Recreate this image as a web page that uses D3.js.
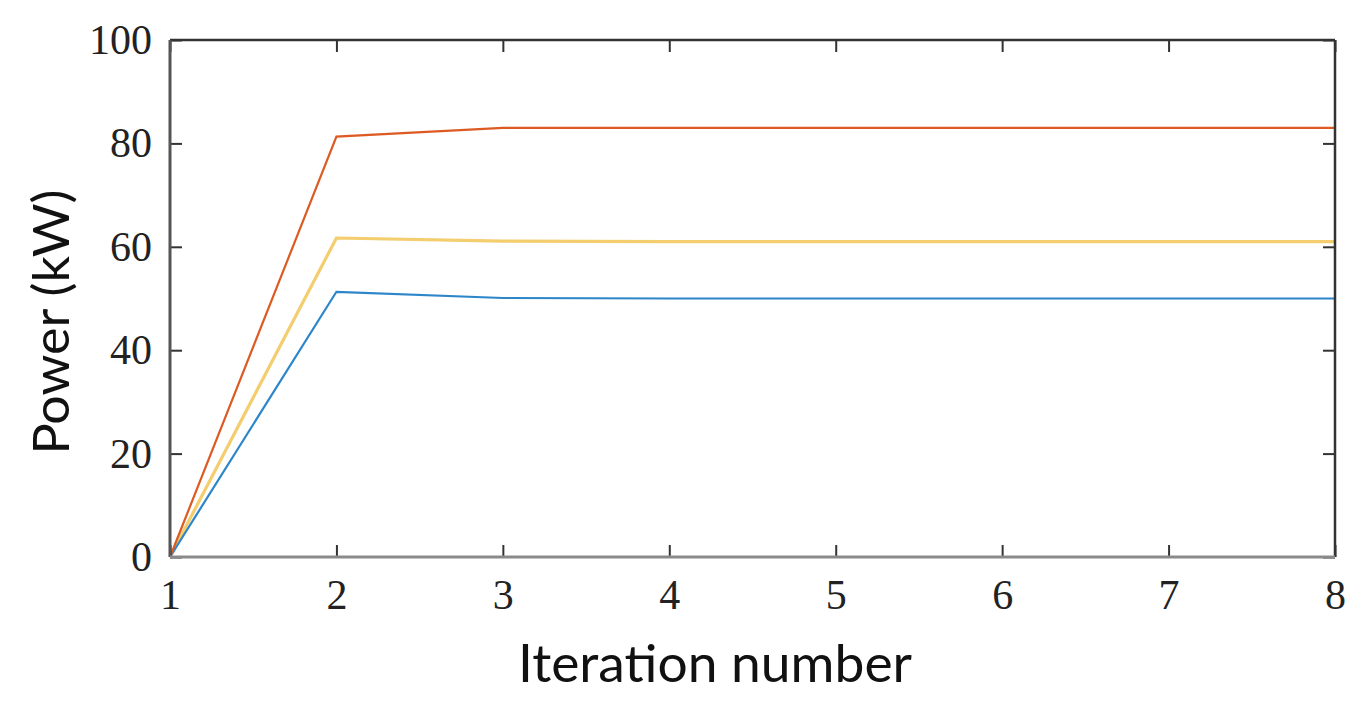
<!DOCTYPE html>
<html>
<head>
<meta charset="utf-8">
<script src="https://cdn.jsdelivr.net/npm/d3@7"></script>
<style>
html,body{margin:0;padding:0;background:#fff;}
svg{display:block;}
</style>
</head>
<body>
<svg id="chart" width="1361" height="715"></svg>
<script>
const iterations = [1, 2, 3, 4, 5, 6, 7, 8];
const seriesBlue   = [0, 51.3, 50.1, 50.0, 50.0, 50.0, 50.0, 50.0];
const seriesOrange = [0, 81.3, 83.0, 83.0, 83.0, 83.0, 83.0, 83.0];
const seriesYellow = [0, 61.7, 61.1, 61.0, 61.0, 61.0, 61.0, 61.0];
const xTicks = [1, 2, 3, 4, 5, 6, 7, 8];
const yTicks = [0, 20, 40, 60, 80, 100];
const xTitle = "Iteration number";
const yTitle = "Power (kW)";

const svg = d3.select("#chart");
const L = 170, R = 1335, T = 40, B = 557;
const x = d3.scaleLinear().domain([1, 8]).range([L, R]);
const y = d3.scaleLinear().domain([0, 100]).range([B, T]);

const serif = "'Liberation Serif', 'DejaVu Serif', serif";
const sans = "Lato, 'Open Sans', sans-serif";

// Series
const line = d3.line().x((d, i) => x(iterations[i])).y(d => y(d));
const series = [
  {v: seriesYellow, c: "#f4cd6e", w: 3.2},
  {v: seriesBlue, c: "#2c86c9", w: 2.2},
  {v: seriesOrange, c: "#dd5a22", w: 2.2}
];
series.forEach(s => {
  svg.append("path").datum(s.v).attr("d", line)
    .attr("fill", "none").attr("stroke", s.c).attr("stroke-width", s.w)
    .attr("stroke-linejoin", "miter");
});

// Axes (inner ticks)
const tickLen = 12;
const gB = svg.append("g").attr("transform", `translate(0,${B})`)
  .call(d3.axisBottom(x).tickValues(xTicks).tickSize(-tickLen).tickPadding(tickLen + 10).tickFormat(d3.format("d")));
const gT = svg.append("g").attr("transform", `translate(0,${T})`)
  .call(d3.axisTop(x).tickValues(xTicks).tickSize(-tickLen).tickFormat(""));
const gL = svg.append("g").attr("transform", `translate(${L},0)`)
  .call(d3.axisLeft(y).tickValues(yTicks).tickSize(-tickLen).tickPadding(tickLen + 6).tickFormat(d3.format("d")));
const gR = svg.append("g").attr("transform", `translate(${R},0)`)
  .call(d3.axisRight(y).tickValues(yTicks).tickSize(-tickLen).tickFormat(""));

[gB, gT, gL, gR].forEach(g => {
  g.select(".domain").remove();
  g.selectAll(".tick line").attr("stroke", "#333").attr("stroke-width", 2);
  g.selectAll(".tick text").attr("fill", "#222").style("font-family", serif).style("font-size", "42px");
});
gB.selectAll(".tick text").attr("dy", "0.71em");
gL.selectAll(".tick text").attr("dy", "0.32em");

// Box
svg.append("line").attr("x1", L).attr("x2", R).attr("y1", T).attr("y2", T).attr("stroke", "#333").attr("stroke-width", 2.5);
svg.append("line").attr("x1", R).attr("x2", R).attr("y1", T).attr("y2", B).attr("stroke", "#333").attr("stroke-width", 2.5);
svg.append("line").attr("x1", L).attr("x2", L).attr("y1", T).attr("y2", B).attr("stroke", "#555").attr("stroke-width", 3);
svg.append("line").attr("x1", L).attr("x2", R).attr("y1", B).attr("y2", B).attr("stroke", "#8a8a8a").attr("stroke-width", 3);

// Titles
svg.append("text").attr("x", 715).attr("y", 682).attr("text-anchor", "middle")
  .attr("textLength", 394).attr("lengthAdjust", "spacingAndGlyphs")
  .style("font-family", sans).style("font-size", "52px").attr("fill", "#111").text(xTitle);
svg.append("text").attr("transform", "translate(69,322) rotate(-90)").attr("text-anchor", "middle")
  .attr("textLength", 265).attr("lengthAdjust", "spacingAndGlyphs")
  .style("font-family", sans).style("font-size", "51px").attr("fill", "#111").text(yTitle);
</script>
</body>
</html>
